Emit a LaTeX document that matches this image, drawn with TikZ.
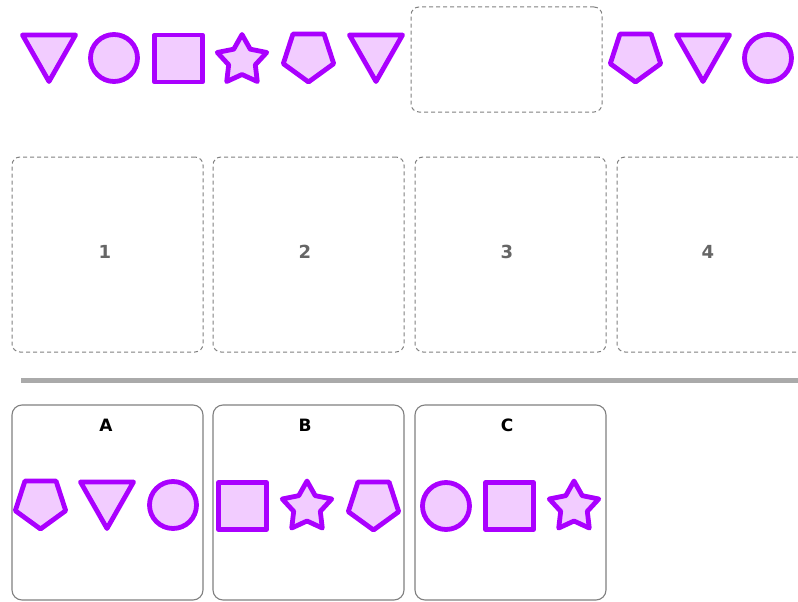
\documentclass[tikz,border=0pt]{standalone}
\usepackage{fontspec}
\setmainfont{DejaVu Sans}
\definecolor{purp}{HTML}{AA00FF}
\definecolor{lav}{HTML}{F2CCFF}
\definecolor{dgray}{HTML}{808080}
\definecolor{lblgray}{HTML}{666666}
\definecolor{sepgray}{HTML}{AAAAAA}
\tikzset{
  shp/.style={draw=purp, fill=lav, line width=4.8pt, line join=round},
  slotbox/.style={draw=dgray, dashed, dash pattern=on 4pt off 3pt, rounded corners=8pt, line width=1pt, minimum width=191pt, minimum height=195pt, inner sep=0pt, outer sep=0pt},
  optbox/.style={draw=dgray, rounded corners=10pt, line width=1.1pt, minimum width=191pt, minimum height=195pt, inner sep=0pt, outer sep=0pt},
  numlbl/.style={font=\bfseries\fontsize{18}{20}\selectfont, text=lblgray},
  optlbl/.style={font=\bfseries\fontsize{17}{19}\selectfont, text=black}
}
\newcommand\shTri[1]{\draw[shp,shift={#1}] (-26.5,-23) -- (26.5,-23) -- (0,23.5) -- cycle;}
\newcommand\shCirc[1]{\draw[shp] #1 circle[radius=23.5];}
\newcommand\shSq[1]{\draw[shp,shift={#1}] (-24,-23.5) rectangle (24,23.5);}
\newcommand\shPent[1]{\draw[shp,shift={#1}] (90:26.5) -- (162:26.5) -- (234:26.5) -- (306:26.5) -- (18:26.5) -- cycle;}
\newcommand\shStar[1]{\draw[shp,shift={#1}] (-90:26) -- (-54:14) -- (-18:26) -- (18:14) -- (54:26) -- (90:14) -- (126:26) -- (162:14) -- (198:26) -- (234:14) -- cycle;}
\begin{document}
\begin{tikzpicture}[x=1pt,y=-1pt]
\useasboundingbox (0,0) rectangle (798,602);
\clip (0,0) rectangle (798,602);
% top sequence
\shTri{(49,58)}
\shCirc{(114,58)}
\shSq{(178.5,58.5)}
\shStar{(242,60.5)}
\shPent{(308.5,55.5)}
\shTri{(376,58)}
\node[slotbox, minimum width=191pt, minimum height=105pt] (gap) at (506.5,59.5) {};
\shPent{(635.5,55.5)}
\shTri{(703,58)}
\shCirc{(768,58)}
% answer slots
\node[slotbox] (s1) at (107.5,254.5) {};
\node[slotbox] (s2) at (308.5,254.5) {};
\node[slotbox] (s3) at (510.5,254.5) {};
\node[slotbox] (s4) at (712.5,254.5) {};
\node[numlbl] (n1) at (105,252) {1};
\node[numlbl] (n2) at (305,252) {2};
\node[numlbl] (n3) at (507,252) {3};
\node[numlbl] (n4) at (708,252) {4};
% separator
\coordinate (sepL) at (21,380);
\coordinate (sepR) at (798,380);
\draw[sepgray, line width=5pt] (sepL) -- (sepR);
% options
\node[optbox] (oA) at (107.5,502.5) {};
\node[optbox] (oB) at (308.5,502.5) {};
\node[optbox] (oC) at (510.5,502.5) {};
\node[optlbl] (lA) at (106,425) {A};
\node[optlbl] (lB) at (305,425) {B};
\node[optlbl] (lC) at (507,425) {C};
\shPent{(40.5,502.5)}
\shTri{(107,505)}
\shCirc{(173,505)}
\shSq{(242.5,506)}
\shStar{(307,507)}
\shPent{(373.5,503.5)}
\shCirc{(446,506)}
\shSq{(509.5,506)}
\shStar{(574,507)}
\end{tikzpicture}
\end{document}
